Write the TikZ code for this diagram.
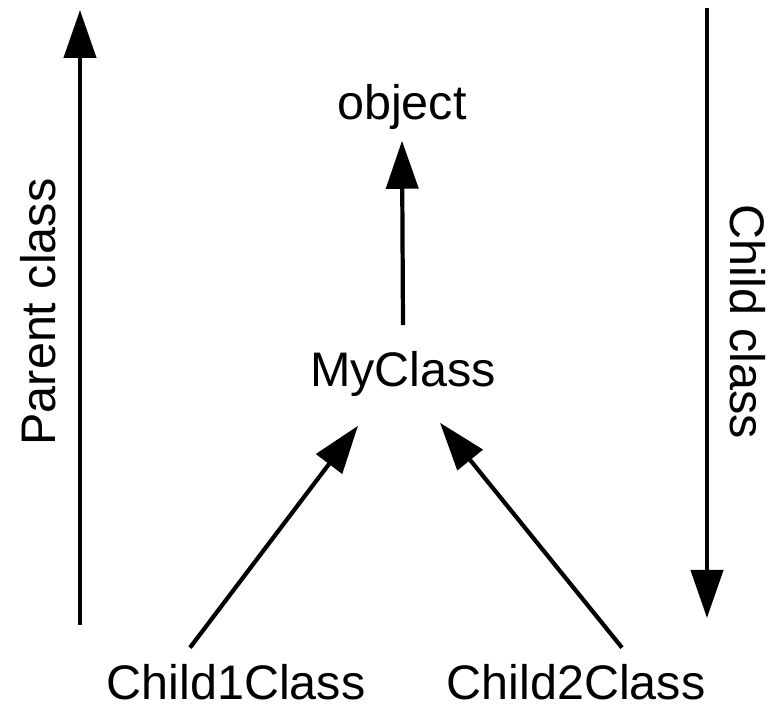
\documentclass[tikz,border=0pt]{standalone}
\usepackage{fontspec}
\setmainfont{Liberation Sans}
\usetikzlibrary{arrows.meta, positioning}
\tikzset{
    classnode/.style={inner sep=0pt, anchor=base, font=\fontsize{13.8}{16}\selectfont},
    arrow/.style={line width=1.2pt, -{Triangle[length=0.48cm, width=0.32cm]}}
}

\begin{document}
\begin{tikzpicture}
            \useasboundingbox (0,0) rectangle (7.73,7.05);

            \node[classnode] (object) at (4.02,5.85) {object};
            \node[classnode] (myclass) at (4.03,3.18) {MyClass};
            \node[classnode] (child1) at (2.36,0.05) {Child1Class};
            \node[classnode] (child2) at (5.76,0.05) {Child2Class};
            \node[classnode, rotate=90] (parent) at (0.55,3.93) {Parent class};
            \node[classnode, rotate=-90] (childlbl) at (7.30,3.83) {Child class};

            \coordinate (pbot) at (0.80,0.80);
            \coordinate (ptop) at (0.80,6.95);
            \coordinate (ctop) at (7.07,6.97);
            \coordinate (cbot) at (7.07,0.87);

            \draw[arrow] (pbot) -- (ptop);
            \draw[arrow] (ctop) -- (cbot);
            \draw[arrow] ([yshift=0.26cm]myclass.north) -- ([yshift=-0.10cm]object.south);
            \draw[arrow] ([shift={(-0.46,0.165)}]child1.north) -- ([shift={(-0.45,-0.28)}]myclass.south);
            \draw[arrow] ([shift={(0.46,0.165)}]child2.north) -- ([shift={(0.37,-0.25)}]myclass.south);
        \end{tikzpicture}
\end{document}
